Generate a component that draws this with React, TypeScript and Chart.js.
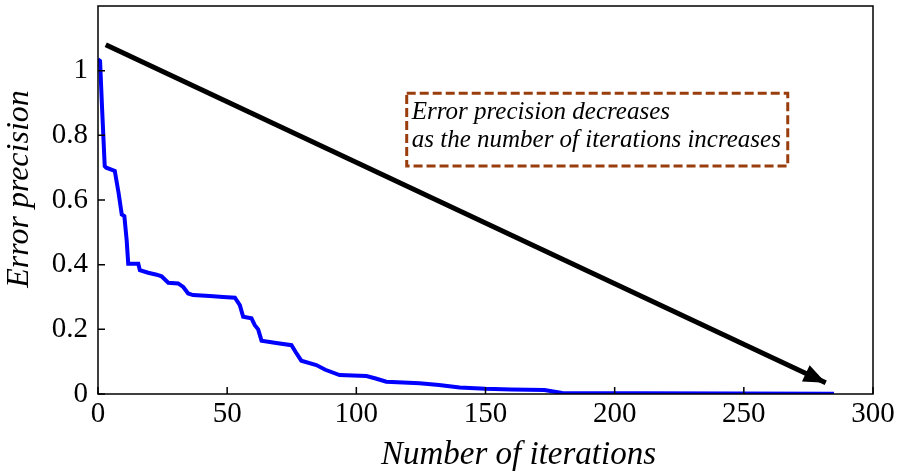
import { useEffect, useRef } from "react";
import { Chart, registerables } from "chart.js";

Chart.register(...registerables);

const iterations = [
  0, 0.8, 1.6, 2.6, 3.2, 6.5, 8.0, 9.2, 10.2, 11.1, 11.7, 15.6, 16.2, 19.4, 22.7, 24.6, 27.2, 31.0, 33.0,
  34.9, 36.8, 43.3, 48.4, 53.0, 54.9, 56.2, 59.4, 60.7, 62.0, 63.3, 69.0, 74.9, 76.5, 78.7, 84.5, 88.0,
  93.5, 103.9, 107.5, 111.6, 124.5, 132, 140, 150, 160, 172.8, 179.7, 209.5, 284.9,
];
const errorPrecision = [
  1.035, 1.03, 0.88, 0.705, 0.7, 0.69, 0.62, 0.555, 0.55, 0.475, 0.403, 0.403, 0.383, 0.375, 0.369, 0.364,
  0.344, 0.342, 0.331, 0.311, 0.306, 0.303, 0.3, 0.298, 0.275, 0.239, 0.234, 0.213, 0.2, 0.165, 0.158,
  0.151, 0.13, 0.103, 0.0895, 0.075, 0.0586, 0.0556, 0.048, 0.038, 0.033, 0.028, 0.02, 0.016, 0.014, 0.012,
  0.003, 0.002, 0.001,
];
const xTicks = [0, 50, 100, 150, 200, 250, 300];
const yTicks = [0, 0.2, 0.4, 0.6, 0.8, 1];
const xRange = [0, 300];
const yRange = [0, 1.2];
const arrowX = [3, 281.7];
const arrowY = [1.08, 0.035];
const noteLines = ["Error precision decreases", "as the number of iterations increases"];
const noteBoxX = [119.5, 267];
const noteBoxY = [0.93, 0.705];
const xTitle = "Number of iterations";
const yTitle = "Error precision";

const SERIF = '"Liberation Serif", "Times New Roman", serif';

const decorPlugin = {
  id: "decor",
  afterDatasetsDraw(chart: any) {
    const { ctx, chartArea, scales } = chart;
    const xs = scales.x;
    const ys = scales.y;
    ctx.save();
    // arrow head
    const x0 = xs.getPixelForValue(arrowX[0]);
    const y0 = ys.getPixelForValue(arrowY[0]);
    const x1 = xs.getPixelForValue(arrowX[1]);
    const y1 = ys.getPixelForValue(arrowY[1]);
    const ang = Math.atan2(y1 - y0, x1 - x0);
    const hl = 22;
    const hw = 9;
    ctx.fillStyle = "#000";
    ctx.beginPath();
    ctx.moveTo(x1, y1);
    ctx.lineTo(x1 - hl * Math.cos(ang) + hw * Math.sin(ang), y1 - hl * Math.sin(ang) - hw * Math.cos(ang));
    ctx.lineTo(x1 - hl * Math.cos(ang) - hw * Math.sin(ang), y1 - hl * Math.sin(ang) + hw * Math.cos(ang));
    ctx.closePath();
    ctx.fill();

    // frame
    ctx.strokeStyle = "#000";
    ctx.lineWidth = 1.5;
    ctx.strokeRect(chartArea.left, chartArea.top, chartArea.width, chartArea.height);
    // inward ticks
    ctx.beginPath();
    xTicks.forEach((v) => {
      const px = xs.getPixelForValue(v);
      ctx.moveTo(px, chartArea.bottom);
      ctx.lineTo(px, chartArea.bottom - 7);
    });
    yTicks.forEach((v) => {
      const py = ys.getPixelForValue(v);
      ctx.moveTo(chartArea.left, py);
      ctx.lineTo(chartArea.left + 7, py);
    });
    ctx.stroke();

    // note box
    const bx0 = xs.getPixelForValue(noteBoxX[0]);
    const bx1 = xs.getPixelForValue(noteBoxX[1]);
    const by0 = ys.getPixelForValue(noteBoxY[0]);
    const by1 = ys.getPixelForValue(noteBoxY[1]);
    ctx.strokeStyle = "#9a3d0c";
    ctx.lineWidth = 3;
    ctx.setLineDash([9, 4]);
    ctx.strokeRect(bx0, by0, bx1 - bx0, by1 - by0);
    ctx.setLineDash([]);
    ctx.fillStyle = "#000";
    ctx.font = `italic 25px ${SERIF}`;
    ctx.textAlign = "left";
    ctx.textBaseline = "alphabetic";
    ctx.fillText(noteLines[0], bx0 + 5, by0 + 26);
    ctx.fillText(noteLines[1], bx0 + 5, by0 + 54);

    // axis titles
    ctx.font = `italic 33px ${SERIF}`;
    ctx.textAlign = "center";
    ctx.textBaseline = "middle";
    ctx.fillText(xTitle, (chartArea.left + chartArea.right) / 2 + 33, 455);
    ctx.font = `italic 32px ${SERIF}`;
    ctx.translate(20, 189);
    ctx.rotate(-Math.PI / 2);
    ctx.fillText(yTitle, 0, 0);
    ctx.restore();
  },
};

export default function App() {
  const ref = useRef<HTMLCanvasElement | null>(null);
  useEffect(() => {
    document.body.style.margin = "0";
    const canvas = ref.current;
    if (!canvas) return;
    const chart = new Chart(canvas, {
      type: "line",
      data: {
        datasets: [
          {
            data: iterations.map((x, i) => ({ x, y: errorPrecision[i] })),
            borderColor: "#0000ff",
            borderWidth: 4,
            pointRadius: 0,
            tension: 0,
          },
          {
            data: arrowX.map((x, i) => ({ x, y: arrowY[i] })),
            borderColor: "#000000",
            borderWidth: 5,
            pointRadius: 0,
          },
        ],
      },
      options: {
        animation: false,
        responsive: true,
        maintainAspectRatio: false,
        layout: { padding: { top: 6, right: 31, left: 0, bottom: 0 } },
        plugins: { legend: { display: false }, tooltip: { enabled: false } },
        scales: {
          x: {
            type: "linear",
            min: xRange[0],
            max: xRange[1],
            afterBuildTicks: (s: any) => {
              s.ticks = xTicks.map((v) => ({ value: v }));
            },
            afterFit: (s: any) => {
              s.height = 82;
              s.paddingLeft = 0;
              s.paddingRight = 0;
            },
            grid: { display: false, drawTicks: false },
            border: { display: false },
            ticks: {
              color: "#000",
              padding: 3,
              maxRotation: 0,
              autoSkip: false,
              font: { family: SERIF, size: 29 },
              callback: (v: any) => String(v),
            },
          },
          y: {
            type: "linear",
            min: yRange[0],
            max: yRange[1],
            afterBuildTicks: (s: any) => {
              s.ticks = yTicks.map((v) => ({ value: v }));
            },
            afterFit: (s: any) => {
              s.width = 98;
              s.paddingTop = 0;
              s.paddingBottom = 0;
            },
            grid: { display: false, drawTicks: false },
            border: { display: false },
            ticks: {
              color: "#000",
              padding: 10,
              autoSkip: false,
              font: { family: SERIF, size: 29 },
              callback: (v: any) => String(v),
            },
          },
        },
      },
      plugins: [decorPlugin],
    });
    return () => chart.destroy();
  }, []);
  return (
    <div style={{ width: 904, height: 476, position: "relative", background: "#fff" }}>
      <canvas ref={ref} />
    </div>
  );
}
